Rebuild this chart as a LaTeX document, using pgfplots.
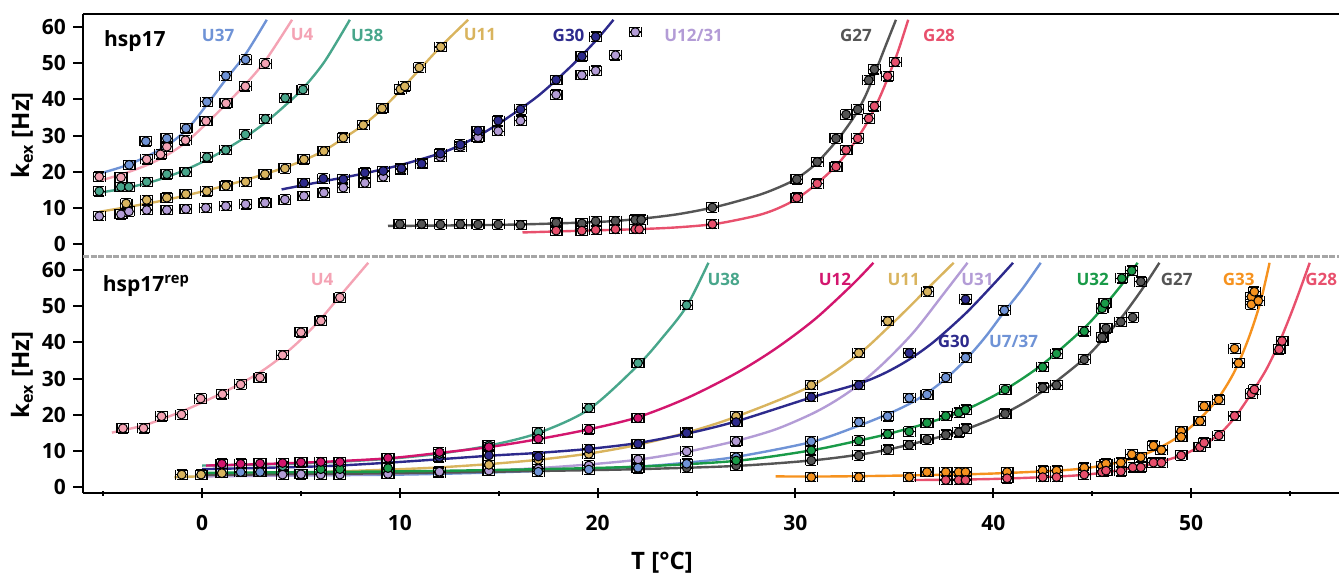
\documentclass[border=0pt]{standalone}
\usepackage{fontspec}
\setmainfont{Open Sans}
\usepackage{pgfplots}
\pgfplotsset{compat=1.18}
\definecolor{cBlue}{HTML}{6F93D6}
\definecolor{cPink}{HTML}{F4A3B4}
\definecolor{cTeal}{HTML}{48A68B}
\definecolor{cGold}{HTML}{D9B45E}
\definecolor{cNavy}{HTML}{2D2A8C}
\definecolor{cLav}{HTML}{B39CD6}
\definecolor{cGray}{HTML}{555555}
\definecolor{cRed}{HTML}{E8506D}
\definecolor{cMag}{HTML}{D3166E}
\definecolor{cGreen}{HTML}{199A48}
\definecolor{cOrange}{HTML}{F6921E}
\tikzset{lab/.style={font=\bfseries\fontsize{8.5}{9}\selectfont, text=#1}}
\pgfplotsset{
  pts/.style={only marks, mark=*, mark size=2.2pt,
    mark options={fill=#1, draw=black, line width=0.5pt},
    error bars/.cd, x dir=both, x fixed=0.3, y dir=both, y fixed=1.3,
    error bar style={line width=0.6pt, black},
    error mark options={rotate=90, line width=0.6pt, black, mark size=2.5pt}},
  fitl/.style={no marks, smooth, line width=1.2pt, draw=#1},
  noarrows/.style={every outer x axis line/.append style={-},
    every inner x axis line/.append style={-},
    every outer y axis line/.append style={-},
    every inner y axis line/.append style={-}},
  base/.style={scale only axis, width=628pt,
    xmin=-6.02, xmax=57.48,
    axis y line=left,
    axis line style={-, line width=1pt, black},
    tick align=outside, major tick length=5pt, minor tick length=2.5pt,
    tick style={line width=1pt, black},
    ytick={0,10,...,60},
    /pgf/number format/assume math mode=true,
    tick label style={font=\bfseries\fontsize{10.5}{11}\selectfont},
    label style={font=\bfseries\fontsize{12}{13}\selectfont},
    ylabel={k\textsubscript{ex} [Hz]},
    ylabel style={at={(rel axis cs:-0.0486,0.5)}, anchor=center},
    clip=false},
}
\begin{document}
\begin{tikzpicture}[x=1pt,y=1pt]
\useasboundingbox (0,0) rectangle (669.5,287.5);
% ---------------- top panel: hsp17 ----------------
\begin{axis}[base, at={(41.5pt,159pt)}, anchor=south west, height=121.5pt,
  ymin=-3.59, ymax=63.6, axis x line=top, xtick=\empty, noarrows]
\addplot[fitl=cBlue] coordinates {(-5.3,19.3) (-3.7,22) (-2,26.5) (-0.8,31.5) (0.24,38.5) (1.2,45.5) (2.2,52.5) (3.27,62)};
\addplot[fitl=cPink] coordinates {(-5.2,17.5) (-4.1,19.2) (-2.8,21.8) (-1.8,24.5) (-0.8,28.2) (0.2,33.2) (1.2,38.6) (2.2,44.2) (3.2,50.7) (4.55,62)};
\addplot[fitl=cTeal] coordinates {(-5.2,14.2) (-4.1,15.2) (-2.8,16.8) (-1.8,18.5) (-0.8,20.6) (0.24,23.3) (1.2,26.2) (2.2,29.6) (3.2,33.6) (4.2,38.3) (5.1,43) (6.2,50.5) (7.47,62)};
\addplot[fitl=cGold] coordinates {(-5.2,8.9) (-3.8,10.2) (-2,12) (0,14.5) (2,17.4) (4,20.8) (5.15,23.2) (6.16,25.8) (7.14,29.2) (8.15,32.9) (9.1,37.3) (10.03,42.5) (11,48.3) (12.07,54.6) (13.45,62)};
\addplot[fitl=cNavy] coordinates {(4.02,15.1) (6,17.2) (8,19.3) (10,21.8) (12,25.0) (13,27.2) (14,30) (15,33.3) (16,37) (17,41) (18,45.8) (19,51) (20,56.8) (20.8,62)};
\addplot[fitl=cGray] coordinates {(9.4,5.0) (12,5.1) (16,5.4) (20,6.1) (22,6.9) (24,8.2) (26,10.3) (28,13.3) (29,15.3) (30,17.9) (31,22) (32,28) (32.5,31.5) (33,35.5) (33.5,40.5) (34,47) (34.5,54) (35.08,62)};
\addplot[fitl=cRed] coordinates {(16.2,3.2) (20,3.8) (22,4.1) (24,4.6) (26,5.6) (28,7.8) (29,9.6) (30,12.3) (31,16.3) (32,21.3) (32.6,25.2) (33.2,29.8) (33.7,34.3) (34.2,39.8) (34.7,46.3) (35.2,53.5) (35.7,62)};
% points
\addplot[pts=cGray] coordinates {(10.0,5.5) (11.1,5.5) (12.05,5.4) (13.06,5.5) (13.95,5.4) (14.97,5.4) (16.1,5.3) (17.9,5.9) (19.2,5.7) (19.9,6.3) (20.9,6.4) (21.9,6.7) (22.2,6.7) (25.8,10.1) (30.07,17.9) (31.1,22.7) (32.05,29.2) (32.56,35.8) (33.15,37.2) (33.7,45.3) (33.99,48.3)};
\addplot[pts=cRed] coordinates {(17.9,3.7) (19.2,3.7) (19.9,3.9) (20.9,4.1) (21.9,4.1) (22.1,4.1) (25.8,5.5) (30.07,12.8) (31.1,16.7) (32.05,21.4) (32.56,26.0) (33.15,29.2) (33.7,34.7) (33.99,38.1) (34.66,46.4) (35.05,50.3)};
\addplot[pts=cLav] coordinates {(-5.2,7.7) (-4.1,8.2) (-3.7,9.0) (-2.8,9.4) (-1.78,9.4) (-0.82,9.7) (0.19,10.0) (1.2,10.5) (2.2,11.0) (3.18,11.4) (4.19,12.3) (5.15,13.3) (6.16,14.2) (7.14,15.6) (8.23,16.9) (9.16,18.6) (10.08,20.6) (11.1,22.3) (12.05,24.1) (13.06,26.9) (13.95,29.5) (14.97,31.2) (16.1,34.1) (17.9,41.3) (19.2,46.7) (19.9,47.9) (20.9,52.2) (21.9,58.6)};
\addplot[pts=cNavy] coordinates {(5.15,16.9) (6.13,18.1) (7.14,17.9) (8.23,19.7) (9.16,20.2) (10.08,20.9) (11.1,22.2) (12.05,25.0) (13.06,27.5) (13.95,31.3) (14.97,34.1) (16.1,37.2) (17.9,45.4) (19.2,51.9) (19.9,57.3)};
\addplot[pts=cGold] coordinates {(-3.84,11.2) (-2.8,12.2) (-1.78,12.8) (-0.82,13.8) (0.24,14.6) (1.21,16.1) (2.2,17.2) (3.18,19.3) (4.19,20.9) (5.15,23.4) (6.16,25.7) (7.14,29.4) (8.15,32.9) (9.1,37.5) (10.03,42.8) (10.25,43.6) (10.98,48.8) (12.07,54.5)};
\addplot[pts=cTeal] coordinates {(-5.2,14.6) (-4.1,15.8) (-3.7,15.8) (-2.8,17.2) (-1.78,19.3) (-0.82,19.9) (0.24,24.0) (1.2,26.0) (2.19,30.3) (3.2,34.6) (4.2,40.4) (5.1,42.7)};
\addplot[pts=cPink] coordinates {(-5.2,18.6) (-4.1,18.4) (-2.8,23.4) (-2.1,24.8) (-1.78,26.9) (-0.84,28.7) (0.2,34.0) (1.21,38.9) (2.19,43.6) (3.2,49.9)};
\addplot[pts=cBlue] coordinates {(-3.69,21.9) (-2.84,28.4) (-1.78,29.2) (-0.81,32.0) (0.24,39.3) (1.2,46.5) (2.2,51.0)};
% labels
\node[anchor=base west, font=\bfseries\fontsize{10.5}{11}\selectfont] at (axis cs:-5.31,54.5) {hsp17};
\node[lab=cBlue] at (axis cs:0.81,57.8) {U37};
\node[lab=cPink] at (axis cs:5.06,57.8) {U4};
\node[lab=cTeal] at (axis cs:8.35,57.8) {U38};
\node[lab=cGold] at (axis cs:14.05,57.8) {U11};
\node[lab=cNavy] at (axis cs:18.53,57.8) {G30};
\node[lab=cLav] at (axis cs:24.85,57.8) {U12/31};
\node[lab=cGray] at (axis cs:33.06,57.8) {G27};
\node[lab=cRed] at (axis cs:37.26,57.8) {G28};
\end{axis}
% ---------------- bottom panel: hsp17rep ----------------
\begin{axis}[base, at={(41.5pt,41pt)}, anchor=south west, height=118pt,
  ymin=-1.58, ymax=63.6, axis x line=bottom, noarrows,
  xtick={0,10,...,50}, minor xtick={-5,5,...,55},
  xticklabel style={yshift=-5pt},
  xlabel={T [°C]},
  xlabel style={at={(rel axis cs:0.461,-0.297)}, anchor=center}]
\draw[color=black!35, line width=1.5pt, dash pattern=on 3pt off 0.8pt] (rel axis cs:0,1) -- (rel axis cs:1,1);
\addplot[fitl=cPink] coordinates {(-4.56,15.1) (-3,17) (-2,18.9) (-1,21) (0,23.4) (1,26) (2,28.8) (3,32) (4,36) (5,40.8) (6,46.5) (7,53) (7.7,57.5) (8.4,62)};
\addplot[fitl=cGold] coordinates {(-1.4,2.8) (2,3.4) (6,4.2) (10,5.0) (12,5.5) (14.5,6.4) (17,7.6) (19.55,9.3) (22,11.7) (24.5,15.1) (27,19.5) (30.8,28) (33.2,36.8) (34.66,44) (35.7,49.5) (36.7,55) (38,62)};
\addplot[fitl=cBlue] coordinates {(0,3.2) (10,3.5) (17,4.5) (22,5.7) (24.5,6.8) (27,8.4) (30.8,12.5) (33.2,17.0) (34.66,20.2) (35.75,23.0) (36.65,26.0) (37.6,30.0) (38.6,35.2) (39.6,41.5) (40.56,48.5) (41.5,55) (42.4,62)};
\addplot[fitl=cLav] coordinates {(0,3.0) (6,3.4) (10,3.8) (14.5,4.6) (17,5.3) (19.55,6.3) (22,7.6) (24.5,9.8) (27,12.8) (29,16) (30.8,20.2) (32,23.8) (33.2,28.3) (34.5,34.5) (36,43) (37.5,53.5) (38.7,62)};
\addplot[fitl=cGray] coordinates {(0,3.4) (10,3.9) (17,4.5) (22,5.0) (27,5.9) (30.8,7.4) (33.2,9.0) (34.66,10.4) (36.65,13.0) (38.6,16.0) (40.6,20.5) (42.5,26.5) (44.6,35.5) (45.6,41.2) (46.5,47) (47.5,54.5) (48.4,62)};
\addplot[fitl=cGreen] coordinates {(0,4.0) (10,4.4) (17,5.0) (22,5.7) (27,7.3) (30.8,10.2) (33.2,12.9) (34.66,14.7) (36.65,17.7) (38.6,21.4) (40.6,27) (42.5,34) (44.6,44) (45.6,50) (46.5,56) (47.3,62)};
\addplot[fitl=cNavy] coordinates {(0,5.0) (6,5.8) (10,7.0) (14.5,8.7) (17,9.5) (19.55,10.6) (22,12.2) (24.5,14.8) (27,18.2) (30.8,24.8) (33.2,28.6) (34.5,31.5) (35.75,35.3) (37,40.2) (38.6,48) (40,56) (41,62)};
\addplot[fitl=cTeal] coordinates {(0,6.0) (3,6.3) (6,6.8) (9.5,7.9) (12,9.3) (14.5,11.5) (17,15) (19.55,21.5) (22,33.5) (23.3,41.5) (24.5,50) (25.6,62)};
\addplot[fitl=cMag] coordinates {(0.2,6) (3,6.4) (6,7) (9.4,8) (12,9.5) (14.5,11.1) (17,13.3) (19.55,16) (22,19.3) (24.5,24.6) (27,31.5) (29,38.3) (31,46.5) (32.9,56.1) (33.94,62)};
\addplot[fitl=cOrange] coordinates {(29,3.0) (32,3.0) (36,3.3) (40,3.8) (44,4.9) (46,6.5) (47.5,8.8) (48.5,11.2) (49.5,14.5) (50.5,19.2) (51.4,24.8) (52.2,32) (52.9,41) (53.5,51) (53.97,62)};
\addplot[fitl=cRed] coordinates {(36,2.0) (40,2.3) (44,3.2) (46,4.4) (48,6.4) (49.5,8.8) (50.5,11.4) (51.4,14.5) (52.2,19.2) (53,25.5) (53.8,32.5) (54.5,40.5) (55.2,50) (56,62)};
% points
\addplot[pts=cPink] coordinates {(-4.0,16.3) (-2.96,16.3) (-2.05,19.6) (-1.04,20.1) (-0.07,24.5) (1.03,25.7) (1.95,28.4) (2.93,30.3) (4.07,36.5) (5.0,42.8) (6.01,46.0) (6.97,52.4)};
\addplot[pts=cGray] coordinates {(12.0,4.0) (22.04,5.2) (24.5,5.4) (27.0,6.0) (30.8,7.4) (33.2,8.8) (34.66,10.4) (35.75,11.7) (36.65,13.2) (37.6,14.5) (38.25,15.2) (38.6,16.2) (40.6,20.3) (42.5,27.5) (43.2,28.2) (44.6,35.3) (45.5,41.4) (45.7,43.9) (46.45,45.7) (47.05,46.9) (47.46,56.8)};
\addplot[pts=cLav] coordinates {(4.07,3.5) (5.0,3.6) (6.0,3.5) (6.97,3.5) (9.4,3.7) (12.0,4.3) (14.5,4.6) (17.0,5.1) (19.55,6.0) (22.04,7.7) (24.5,9.9) (27.0,12.7)};
\addplot[pts=cBlue] coordinates {(1.95,4.2) (2.93,4.2) (17.0,4.3) (19.55,4.9) (22.04,5.4) (24.5,6.5) (27.0,8.3) (30.8,12.7) (33.2,18.0) (34.66,19.6) (35.75,24.7) (36.65,25.6) (37.6,30.3) (38.6,35.8) (40.56,48.9)};
\addplot[pts=cGreen] coordinates {(6.0,5.0) (6.97,5.0) (9.4,5.3) (27.0,7.4) (30.8,10.2) (33.2,12.9) (34.66,14.7) (35.75,15.4) (36.65,17.8) (37.6,19.7) (38.25,20.6) (38.6,21.4) (40.6,27.0) (42.5,33.2) (43.2,36.9) (44.6,43.1) (45.5,49.4) (45.65,50.8) (46.5,57.7) (47.0,59.8)};
\addplot[pts=cGold] coordinates {(-1.03,3.5) (-0.05,3.5) (1.0,3.9) (14.5,6.2) (17.0,7.6) (19.55,9.2) (24.5,15.3) (27.0,19.6) (30.8,28.2) (33.2,37.1) (34.66,45.9) (36.68,54.0)};
\addplot[pts=cNavy] coordinates {(12.0,8.3) (14.5,8.8) (17.0,8.5) (19.55,10.6) (22.04,12.0) (24.5,15.0) (27.0,18.0) (30.8,24.9) (33.2,28.2) (35.75,37.1) (38.6,51.9)};
\addplot[pts=cTeal] coordinates {(4.07,5.8) (12.0,9.2) (14.5,11.6) (17.0,15.2) (19.55,21.9) (22.04,34.3) (24.5,50.3)};
\addplot[pts=cMag] coordinates {(1.0,6.5) (1.95,6.5) (2.93,6.6) (4.07,6.7) (5.0,6.9) (6.0,7.0) (6.97,7.0) (9.4,8.1) (12.0,9.7) (14.5,11.1) (17.0,13.4) (19.55,16.0) (22.04,19.1)};
\addplot[pts=cOrange] coordinates {(30.8,2.8) (33.2,2.8) (35.75,2.8) (36.65,4.2) (37.6,4.2) (38.25,4.2) (38.6,4.2) (40.7,4.2) (42.5,4.6) (43.2,4.6) (44.6,5.4) (45.5,5.8) (45.7,6.5) (46.45,6.8) (47.0,9.1) (47.46,8.3) (48.1,11.5) (48.5,10.3) (49.5,15.5) (49.5,13.9) (50.45,18.3) (50.66,22.4) (51.4,24.2) (52.2,38.3) (52.4,34.3) (53.05,52.6) (53.2,54.0) (53.05,50.5) (53.4,51.5)};
\addplot[pts=cRed] coordinates {(37.6,2.0) (38.25,2.0) (38.6,2.0) (40.7,2.5) (42.5,2.8) (43.2,2.8) (44.6,3.5) (45.5,4.2) (45.7,4.6) (46.45,4.4) (47.05,5.5) (47.46,5.5) (48.1,6.8) (48.5,6.8) (49.5,8.8) (50.45,11.1) (50.66,12.3) (51.4,14.3) (52.2,19.7) (53.05,25.9) (53.2,27.0) (54.45,38.1) (54.6,40.4)};
% labels
\node[anchor=base west, font=\bfseries\fontsize{10.5}{11}\selectfont] at (axis cs:-5.37,54.0) {hsp17\textsuperscript{rep}};
\node[lab=cPink] at (axis cs:6.07,57.4) {U4};
\node[lab=cTeal] at (axis cs:26.37,57.4) {U38};
\node[lab=cMag] at (axis cs:32.0,57.4) {U12};
\node[lab=cGold] at (axis cs:35.47,57.4) {U11};
\node[lab=cLav] at (axis cs:39.2,57.4) {U31};
\node[lab=cGreen] at (axis cs:45.03,57.4) {U32};
\node[lab=cGray] at (axis cs:49.27,57.4) {G27};
\node[lab=cOrange] at (axis cs:52.41,57.4) {G33};
\node[lab=cRed, anchor=east, inner sep=0.5pt] at (axis cs:57.45,57.4) {G28};
\node[lab=cNavy] at (axis cs:38.0,40.4) {G30};
\node[lab=cBlue] at (axis cs:41.03,40.4) {U7/37};
\end{axis}
\end{tikzpicture}
\end{document}
